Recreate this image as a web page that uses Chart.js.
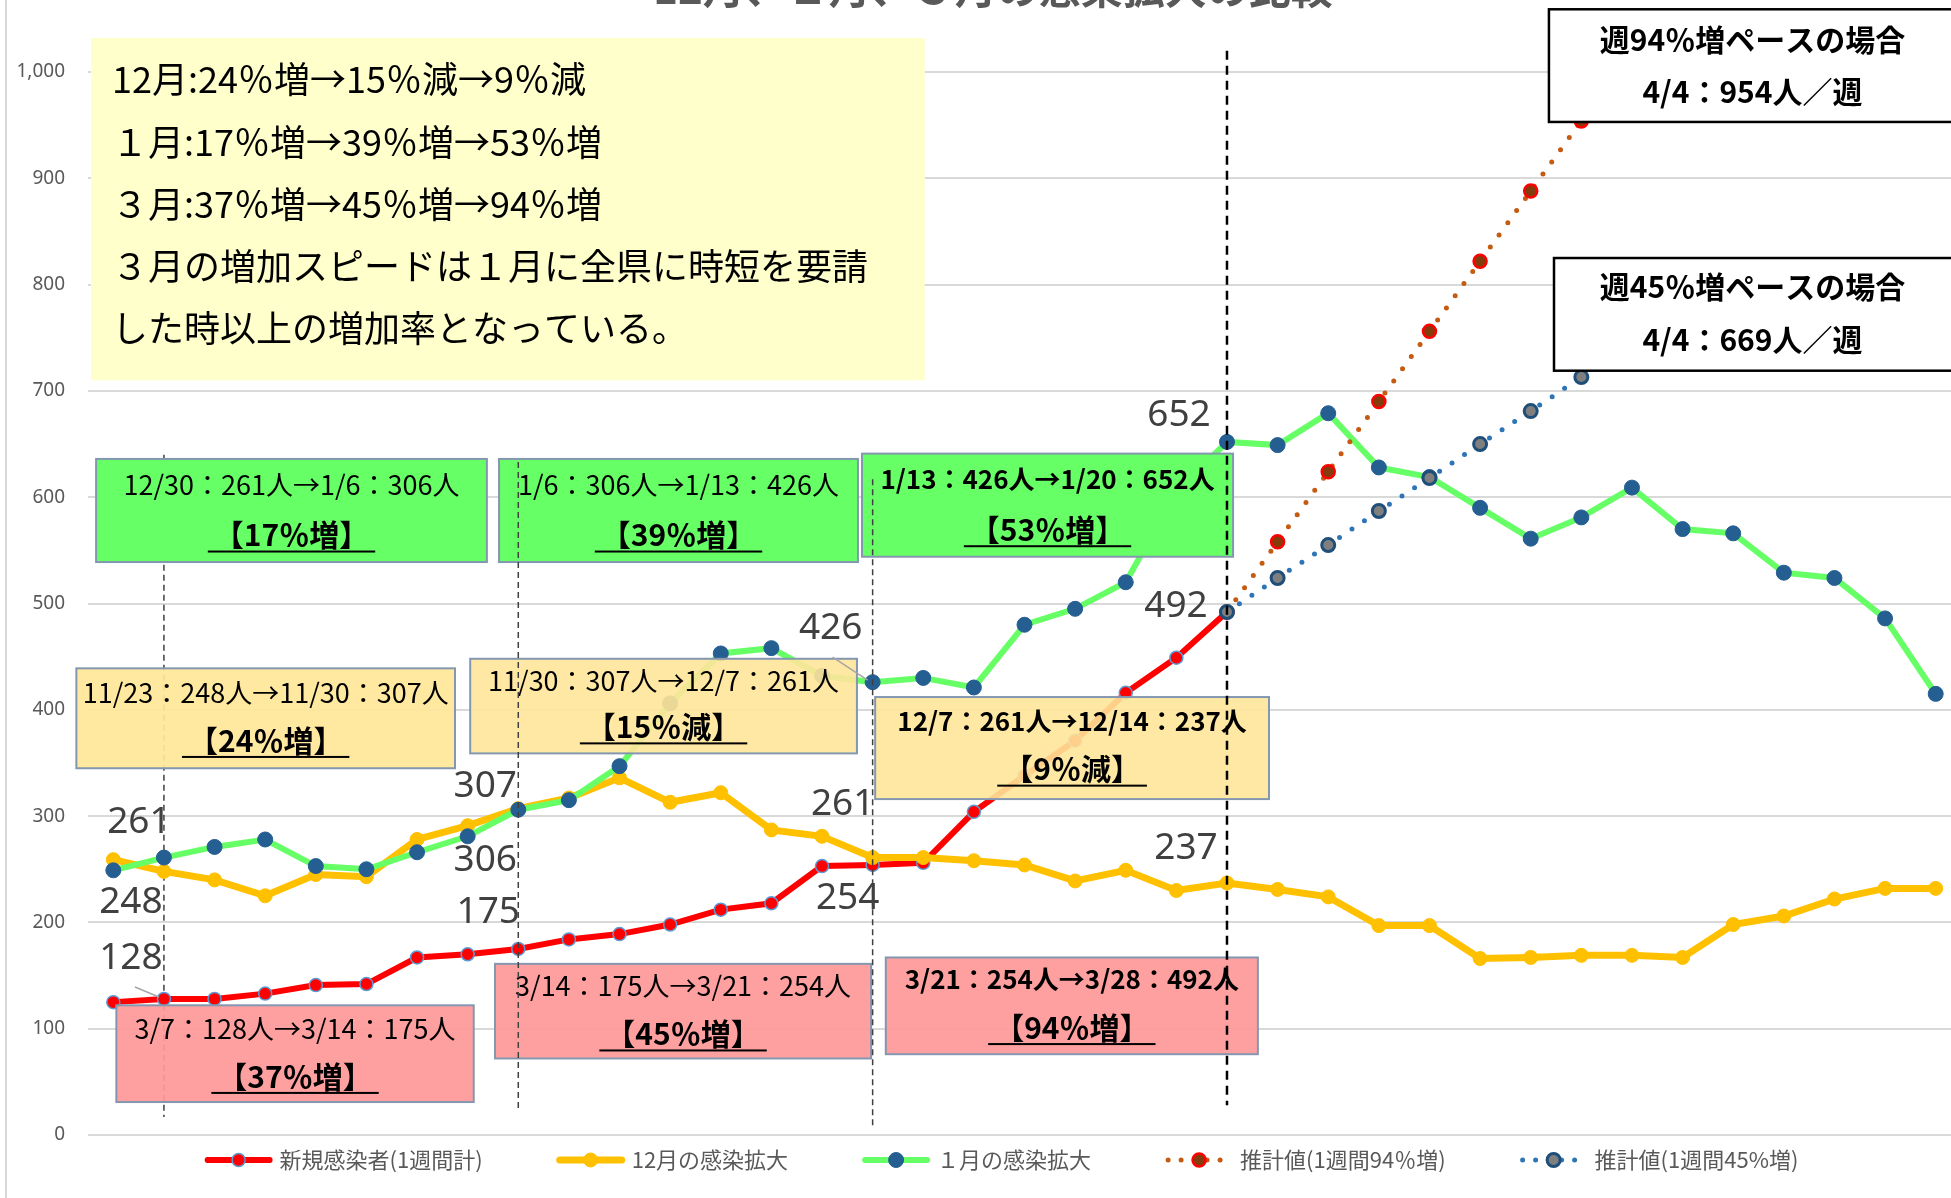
<!DOCTYPE html>
<html lang="ja">
<head>
<meta charset="UTF-8">
<title>12月、１月、３月の感染拡大の比較</title>
<script src="https://cdn.jsdelivr.net/npm/chart.js"></script>
<style>
  html, body { margin: 0; padding: 0; background: #fff; overflow: hidden; }
  #marco { position: relative; width: 1975px; height: 1198px; }
</style>
</head>
<body>
<div id="marco"><canvas id="grafico" width="1975" height="1198"></canvas></div>

<script>
// dias (eje x oculto): 3/6 .. 4/11
const dias = ['3/6','3/7','3/8','3/9','3/10','3/11','3/12','3/13','3/14','3/15',
  '3/16','3/17','3/18','3/19','3/20','3/21','3/22','3/23','3/24','3/25',
  '3/26','3/27','3/28','3/29','3/30','3/31','4/1','4/2','4/3','4/4',
  '4/5','4/6','4/7','4/8','4/9','4/10','4/11'];

// 新規感染者(1週間計) 3/6 - 3/28
const nuevos = [125,128,128,133,141,142,167,170,175,184,189,198,212,218,253,254,256,304,338,371,416,449,492];
// 12月の感染拡大 (11/22 ~)
const diciembre = [259,248,240,225,245,243,278,291,307,317,336,313,322,287,281,261,261,258,254,239,249,230,237,
  231,224,197,197,166,167,169,169,167,198,206,222,232,232];
// １月の感染拡大 (12/29 ~)
const enero = [249,261,271,278,253,250,266,281,306,315,347,406,453,458,432,426,430,421,480,495,520,605,652,
  649,679,628,619,590,561,581,609,570,566,529,524,486,415];
// 推計値 3/28 -> 4/4
const inicioProy = 22;
const proy94 = [492,558,624,690,756,822,888,954];
const proy45 = [492,524,555,587,618,650,681,713];

const yTicks = [0,100,200,300,400,500,600,700,800,900,1000];

const nombres = ['新規感染者(1週間計)','12月の感染拡大','１月の感染拡大','推計値(1週間94％増)','推計値(1週間45%増)'];

const rellenar = (arr, desde) => Array(desde).fill(null).concat(arr);

const series = { rojo: nuevos, amarillo: diciembre, verde: enero };

// cajas de texto (x en indice de dia, y en valor)
const cajas = [
  {x0:-0.44, x1:16.03, y0:1032, y1:710, fill:'#FFFFCC', izq:21, lineas:[
    {t:'12月:24％増→15％減→9％減', dy:41, size:36},
    {t:'１月:17％増→39％増→53％増', dy:104, size:36},
    {t:'３月:37％増→45％増→94％増', dy:166, size:36},
    {t:'３月の増加スピードは１月に全県に時短を要請', dy:228, size:36},
    {t:'した時以上の増加率となっている。', dy:290, size:36}]},
  {x0:-0.34, x1:7.38, y0:636, y1:539, fill:'#66FF66', borde:'#8497B0', lineas:[
    {t:'12/30：261人→1/6：306人', dy:26, size:27},
    {t:'【17％増】', dy:76, size:30, bold:true, sub:true}]},
  {x0:7.62, x1:14.71, y0:636, y1:539, fill:'#66FF66', borde:'#8497B0', lineas:[
    {t:'1/6：306人→1/13：426人', dy:26, size:27},
    {t:'【39％増】', dy:76, size:30, bold:true, sub:true}]},
  {x0:14.79, x1:22.12, y0:641, y1:544, fill:'#66FF66', borde:'#8497B0', lineas:[
    {t:'1/13：426人→1/20：652人', dy:26, size:26, bold:true},
    {t:'【53％増】', dy:76, size:30, bold:true, sub:true}]},
  {x0:-0.73, x1:6.75, y0:439, y1:345, fill:'rgba(255,230,153,0.93)', borde:'#8497B0', lineas:[
    {t:'11/23：248人→11/30：307人', dy:24, size:27},
    {t:'【24％増】', dy:72, size:30, bold:true, sub:true}]},
  {x0:7.05, x1:14.69, y0:448, y1:359, fill:'rgba(255,230,153,0.9)', borde:'#8497B0', lineas:[
    {t:'11/30：307人→12/7：261人', dy:22, size:27},
    {t:'【15％減】', dy:68, size:30, bold:true, sub:true}]},
  {x0:15.05, x1:22.83, y0:412, y1:316, fill:'rgba(255,230,153,0.9)', borde:'#8497B0', lineas:[
    {t:'12/7：261人→12/14：237人', dy:24, size:26, bold:true},
    {t:'【9％減】', dy:72, size:30, bold:true, sub:true}]},
  {x0:0.06, x1:7.12, y0:122, y1:31, fill:'rgba(255,153,153,0.93)', borde:'#8497B0', lineas:[
    {t:'3/7：128人→3/14：175人', dy:23, size:27},
    {t:'【37％増】', dy:71, size:30, bold:true, sub:true}]},
  {x0:7.54, x1:14.97, y0:161, y1:72, fill:'rgba(255,153,153,0.93)', borde:'#8497B0', lineas:[
    {t:'3/14：175人→3/21：254人', dy:22, size:27},
    {t:'【45％増】', dy:70, size:30, bold:true, sub:true}]},
  {x0:15.26, x1:22.61, y0:167, y1:76, fill:'rgba(255,153,153,0.93)', borde:'#8497B0', lineas:[
    {t:'3/21：254人→3/28：492人', dy:22, size:26, bold:true},
    {t:'【94％増】', dy:70, size:30, bold:true, sub:true}]},
  {x0:28.36, x1:36.7, y0:1059, y1:953, fill:'#FFFFFF', borde:'#000000', bw:2.5, cx:32.38, lineas:[
    {t:'週94％増ペースの場合', dy:30, size:30, bold:true},
    {t:'4/4：954人／週', dy:82, size:30, bold:true}]},
  {x0:28.46, x1:36.7, y0:825, y1:719, fill:'#FFFFFF', borde:'#000000', bw:2.5, cx:32.38, lineas:[
    {t:'週45％増ペースの場合', dy:29, size:30, bold:true},
    {t:'4/4：669人／週', dy:82, size:30, bold:true}]}
];

// lineas verticales punteadas
const verticales = [
  {i:1, y0:640, y1:17, color:'#404040', w:1.5, dash:[6,4], atras:true},
  {i:8, y0:633, y1:23, color:'#404040', w:1.5, dash:[6,4]},
  {i:15, y0:617, y1:8, color:'#404040', w:1.5, dash:[6,4]},
  {i:22, y0:1020, y1:28, color:'#000000', w:2.5, dash:[9,6]}
];

// etiquetas de valores
const etiquetas = [
  {s:'verde', i:1, dx:-25, dy:-35},
  {s:'amarillo', i:1, dx:-33, dy:31},
  {s:'rojo', i:1, dx:-33, dy:-40, guia:[-29,-12,-5,-2]},
  {s:'amarillo', i:8, dx:-33, dy:-22},
  {s:'verde', i:8, dx:-33, dy:51},
  {s:'rojo', i:8, dx:-30, dy:-37},
  {s:'verde', i:15, dx:-42, dy:-54, guia:[-40,-25,-5,-2]},
  {s:'amarillo', i:15, dx:-30, dy:-53},
  {s:'rojo', i:15, dx:-25, dy:33},
  {s:'verde', i:22, dx:-48, dy:-26},
  {s:'rojo', i:22, dx:-51, dy:-6},
  {s:'amarillo', i:22, dx:-41, dy:-35}
];

const JP = "'Noto Sans CJK JP','Noto Sans',sans-serif";

const extras = {
  id: 'extras',
  beforeDatasetsDraw(chart) {
    verticales.filter(v => v.atras).forEach(v => vertical(chart, v));
  },
  afterDatasetsDraw(chart) {
    const ctx = chart.ctx, xs = chart.scales.x, ys = chart.scales.y;

    cajas.forEach(b => {
      const x1 = xs.getPixelForValue(b.x0), x2 = xs.getPixelForValue(b.x1);
      const y1 = ys.getPixelForValue(b.y0), y2 = ys.getPixelForValue(b.y1);
      ctx.save();
      ctx.fillStyle = b.fill;
      ctx.fillRect(x1, y1, x2 - x1, y2 - y1);
      if (b.borde) {
        ctx.strokeStyle = b.borde;
        ctx.lineWidth = b.bw || 2;
        ctx.strokeRect(x1, y1, x2 - x1, y2 - y1);
      }
      ctx.fillStyle = '#000';
      ctx.textBaseline = 'middle';
      const cx = b.cx !== undefined ? xs.getPixelForValue(b.cx) : (x1 + x2) / 2;
      b.lineas.forEach(l => {
        ctx.font = (l.bold ? 'bold ' : '') + l.size + 'px ' + JP;
        const y = y1 + l.dy;
        if (b.izq) {
          ctx.textAlign = 'left';
          ctx.fillText(l.t, x1 + b.izq, y);
        } else {
          ctx.textAlign = 'center';
          ctx.fillText(l.t, cx, y);
          if (l.sub) {
            const w = ctx.measureText(l.t).width;
            ctx.fillRect(cx - w / 2 - 6, y + l.size * 0.52, w + 12, 2);
          }
        }
      });
      ctx.restore();
    });

    verticales.filter(v => !v.atras).forEach(v => vertical(chart, v));

    // etiquetas
    ctx.save();
    ctx.font = "37px 'Noto Sans','Open Sans',sans-serif";
    ctx.fillStyle = '#404040';
    ctx.textAlign = 'center';
    ctx.textBaseline = 'middle';
    etiquetas.forEach(e => {
      const v = series[e.s][e.i];
      const px = xs.getPixelForValue(e.i), py = ys.getPixelForValue(v);
      ctx.fillText(String(v), px + e.dx, py + e.dy);
      if (e.guia) {
        ctx.strokeStyle = '#A6A6A6';
        ctx.lineWidth = 1.5;
        ctx.beginPath();
        ctx.moveTo(px + e.guia[0], py + e.guia[1]);
        ctx.lineTo(px + e.guia[2], py + e.guia[3]);
        ctx.stroke();
      }
    });
    ctx.restore();

    // titulo (cortado arriba)
    ctx.save();
    ctx.font = 'bold 42px ' + JP;
    ctx.fillStyle = '#595959';
    ctx.textAlign = 'center';
    ctx.textBaseline = 'alphabetic';
    ctx.fillText('12月、１月、３月の感染拡大の比較', 993, 4);
    ctx.restore();

    // borde izquierdo
    ctx.save();
    ctx.fillStyle = '#D9D9D9';
    ctx.fillRect(5, 0, 2, chart.height);
    ctx.restore();

    leyenda(chart);
  }
};

function vertical(chart, v) {
  const ctx = chart.ctx, xs = chart.scales.x, ys = chart.scales.y;
  const x = xs.getPixelForValue(v.i);
  ctx.save();
  ctx.strokeStyle = v.color;
  ctx.lineWidth = v.w;
  ctx.setLineDash(v.dash);
  ctx.beginPath();
  ctx.moveTo(x, ys.getPixelForValue(v.y0));
  ctx.lineTo(x, ys.getPixelForValue(v.y1));
  ctx.stroke();
  ctx.restore();
}

function leyenda(chart) {
  const ctx = chart.ctx;
  const ds = chart.data.datasets;
  const muestra = 70, gap = 6, sep = 73, yc = 1160;
  ctx.save();
  ctx.font = '22px ' + JP;
  const anchos = ds.map(d => ctx.measureText(d.label).width);
  const total = anchos.reduce((a, w) => a + muestra + gap + w, 0) + sep * (ds.length - 1);
  let x = 1001 - total / 2;
  ds.forEach((d, k) => {
    ctx.save();
    ctx.strokeStyle = d.borderColor;
    ctx.lineWidth = d.borderWidth;
    ctx.lineCap = 'round';
    if (d.borderDash) ctx.setLineDash([0, 13]);
    ctx.beginPath();
    ctx.moveTo(x + 4, yc);
    ctx.lineTo(x + muestra - 4, yc);
    ctx.stroke();
    ctx.setLineDash([]);
    ctx.beginPath();
    ctx.arc(x + muestra / 2, yc, d.pointRadius, 0, Math.PI * 2);
    ctx.fillStyle = d.pointBackgroundColor;
    ctx.fill();
    ctx.lineWidth = d.pointBorderWidth;
    ctx.strokeStyle = d.pointBorderColor;
    ctx.stroke();
    ctx.restore();
    ctx.fillStyle = '#595959';
    ctx.textAlign = 'left';
    ctx.textBaseline = 'middle';
    ctx.fillText(d.label, x + muestra + gap, yc);
    x += muestra + gap + anchos[k] + sep;
  });
  ctx.restore();
}

const ctx = document.getElementById('grafico');

const grafico = new Chart(ctx, {
  type: 'line',
  data: {
    labels: dias,
    datasets: [
      { label: nombres[0], data: nuevos, order: 5,
        borderColor: '#FF0000', borderWidth: 6,
        pointRadius: 6.5, pointBackgroundColor: '#FF0000', pointBorderColor: '#5B9BD5', pointBorderWidth: 1.5 },
      { label: nombres[1], data: diciembre, order: 4,
        borderColor: '#FFC000', borderWidth: 7,
        pointRadius: 7, pointBackgroundColor: '#FFC000', pointBorderColor: '#FFC000', pointBorderWidth: 1 },
      { label: nombres[2], data: enero, order: 3,
        borderColor: '#66FF66', borderWidth: 6,
        pointRadius: 7.5, pointBackgroundColor: '#255E91', pointBorderColor: '#255E91', pointBorderWidth: 1 },
      { label: nombres[3], data: rellenar(proy94, inicioProy), order: 2,
        borderColor: '#C55A11', borderWidth: 5, borderDash: [0, 15], borderCapStyle: 'round',
        pointRadius: 6.5, pointBackgroundColor: '#843C0C', pointBorderColor: '#FF0000', pointBorderWidth: 2.5 },
      { label: nombres[4], data: rellenar(proy45, inicioProy), order: 1,
        borderColor: '#2E75B6', borderWidth: 5, borderDash: [0, 15], borderCapStyle: 'round',
        pointRadius: 6.5, pointBackgroundColor: '#7F7F7F', pointBorderColor: '#1F4E79', pointBorderWidth: 3 }
    ]
  },
  options: {
    responsive: false,
    animation: false,
    events: [],
    layout: { padding: { top: 72, bottom: 63, left: 0, right: 14 } },
    plugins: { legend: { display: false }, tooltip: { enabled: false } },
    elements: { line: { tension: 0 } },
    scales: {
      x: { type: 'category', offset: true, display: false },
      y: {
        min: 0, max: 1000,
        afterFit(scale) { scale.width = 88; },
        afterBuildTicks(scale) { scale.ticks = yTicks.map(v => ({ value: v })); },
        border: { display: false },
        grid: { color: '#D9D9D9', lineWidth: 2, drawTicks: false },
        ticks: {
          padding: 23,
          color: '#595959',
          font: { size: 19, family: "'Liberation Sans Narrow','Noto Sans',sans-serif" },
          callback: v => v.toLocaleString('en-US')
        }
      }
    }
  },
  plugins: [extras]
});
</script>
</body>
</html>
